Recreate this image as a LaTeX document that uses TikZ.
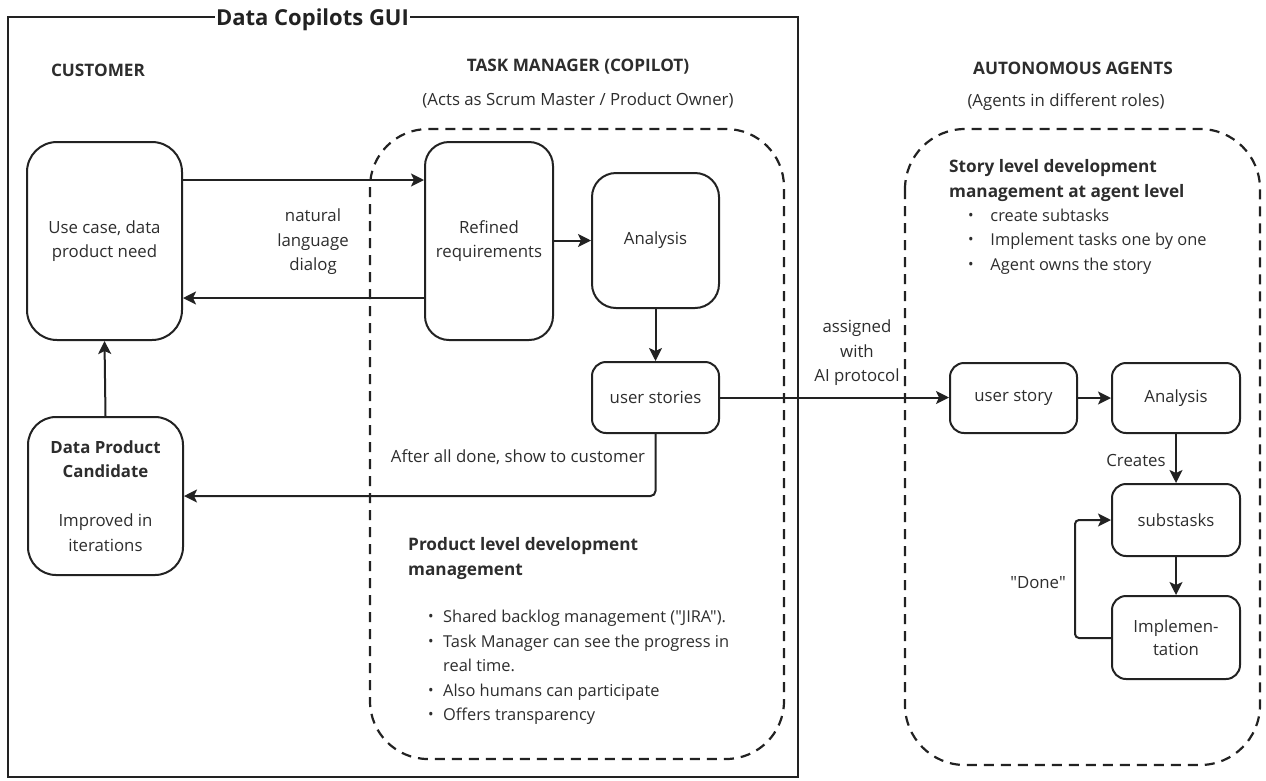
\documentclass[tikz,border=0pt]{standalone}
\usepackage{fontspec}
\usepackage{graphicx}
\setmainfont{Open Sans}
\newfontfamily\plainfont{Open Sans}[Ligatures=TeXOff]
\usetikzlibrary{arrows.meta}
\definecolor{ink}{RGB}{34,34,34}
\definecolor{txt}{RGB}{45,45,45}
\newcommand{\blt}[1][15pt]{\makebox[#1][l]{\raisebox{1pt}{\scalebox{0.9}{•}}}}
\begin{document}
\begin{tikzpicture}[x=1pt,y=-1pt,
  box/.style={draw=ink, line width=2pt, rounded corners=#1, align=center, inner sep=0pt,
    text=txt, font=\fontsize{16.8}{24.5}\selectfont},
  box/.default=20pt,
  arr/.style={draw=ink, line width=2pt, -{Stealth[length=13pt,width=13pt,inset=3pt]}},
  lbl/.style={text=txt, align=center, inner sep=0pt, font=\fontsize{16.8}{24.5}\selectfont},
  hdr/.style={text=txt, inner sep=0pt, font=\bfseries\fontsize{17.2}{20}\selectfont},
  dbox/.style={draw=ink, line width=2.2pt, dash pattern=on 10pt off 7pt}]
\useasboundingbox (0,0) rectangle (1266,780);

% outer GUI frame
\draw[ink, line width=2pt] (8,17) rectangle (798,777);
\node[fill=white, inner xsep=1.5pt, inner ysep=0pt, anchor=base, text=ink,
  font=\bfseries\fontsize{22}{22}\selectfont] (title) at (312.5,25) {Data Copilots GUI};

% dashed containers
\draw[dbox, rounded corners=58pt] (370,129) rectangle (784,759);
\draw[dbox, rounded corners=60pt] (905,129) rectangle (1260,765);

% headers
\node[hdr] (hcust) at (98,70) {CUSTOMER};
\node[hdr] (htm) at (578,67) {TASK MANAGER (COPILOT)};
\node[lbl] (htmsub) at (578,100) {(Acts as Scrum Master / Product Owner)};
\node[hdr] (hag) at (1073,68) {AUTONOMOUS AGENTS};
\node[lbl] (hagsub) at (1066,102) {(Agents in different roles)};

% boxes
\node[box=30pt, minimum width=155pt, minimum height=198pt] (usecase) at (104.5,241) {Use case, data\\product need};
\node[box=28pt, minimum width=155pt, minimum height=158pt] (cand) at (105.5,496)
  {\textbf{Data Product}\\\textbf{Candidate}\\[24.5pt]Improved in\\iterations};
\node[box=24pt, minimum width=128pt, minimum height=198pt] (refined) at (489,241) {Refined\\requirements};
\node[box=24pt, minimum width=127pt, minimum height=135pt] (ana) at (655.5,240.5) {Analysis};
\node[box=14pt, minimum width=127pt, minimum height=71pt] (stories) at (655.5,397.5) {user stories};
\node[box=14pt, minimum width=127pt, minimum height=70pt] (story) at (1013.5,398) {user story};
\node[box=14pt, minimum width=128pt, minimum height=70pt] (ana2) at (1176,398) {Analysis};
\node[box=14pt, minimum width=128pt, minimum height=72pt] (sub) at (1176,520) {substasks};
\node[box=14pt, minimum width=128pt, minimum height=83pt, font=\fontsize{16.8}{22.5}\selectfont] (impl) at (1176,637.5) {Implemen-\\tation};

% text blocks
\node[lbl, align=left, anchor=west, font=\bfseries\fontsize{17.2}{25}\selectfont] (prodh) at (408,558.5)
  {Product level development\\management};
\node[lbl, align=left, anchor=west, font=\plainfont\fontsize{16.4}{24.5}\selectfont] (prodl) at (428,667.5)
  {\blt Shared backlog management ("JIRA").\\
   \blt Task Manager can see the progress in\\
   \hspace*{15pt}real time.\\
   \blt Also humans can participate\\
   \blt Offers transparency};
\node[lbl, align=left, anchor=west, font=\bfseries\fontsize{17.2}{25}\selectfont] (storyh) at (949,180.5)
  {Story level development\\management at agent level};
\node[lbl, align=left, anchor=west, font=\fontsize{16.4}{24.5}\selectfont] (storyl) at (968,241.5)
  {\blt[18pt] create subtasks\\
   \blt[18pt] Implement tasks one by one\\
   \blt[18pt] Agent owns the story};

% connectors
\draw[arr] ([yshift=61pt]usecase.east) -- ([yshift=61pt]usecase.east -| refined.west);
\node[lbl] (nld) at (313,242) {natural\\language\\dialog};
\draw[arr] ([yshift=-57pt]refined.west) -- ([yshift=-57pt]refined.west -| usecase.east);
\draw[arr] (refined.east |- ana.west) -- (ana.west);
\draw[arr] (ana.south) -- (stories.north);
\draw[arr] (stories.east) -- (stories.east -| story.west);
\node[lbl] (assigned) at (857,353) {assigned\\with\\AI protocol};
\draw[arr] (story.east) -- (story.east -| ana2.west);
\draw[arr] (ana2.south) -- (sub.north);
\node[lbl] (creates) at (1136,460) {Creates};
\draw[arr] (sub.south) -- (impl.north);
\draw[arr, rounded corners=4pt] ([yshift=-0.5pt]impl.west) -- ++(-36,0) |- (sub.west);
\node[lbl, font=\plainfont\fontsize{16.8}{24.5}\selectfont] (done) at (1038,583) {"Done"};
\draw[arr, rounded corners=5pt] (stories.south) |- (cand.east);
\node[lbl] (after) at (518,457) {After all done, show to customer};
\draw[arr] (cand.north) -- (usecase.south);
\end{tikzpicture}
\end{document}
